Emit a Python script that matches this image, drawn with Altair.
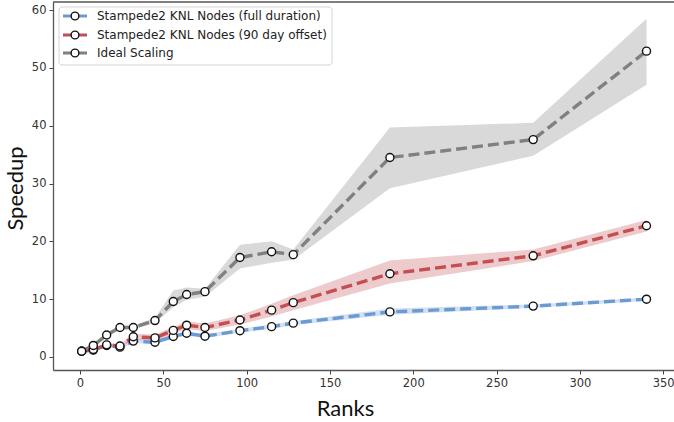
import altair as alt
import pandas as pd

ranks = [1, 8, 16, 24, 32, 45, 56, 64, 75, 96, 115, 128, 186, 272, 340]

series_names = [
    "Stampede2 KNL Nodes (full duration)",
    "Stampede2 KNL Nodes (90 day offset)",
    "Ideal Scaling",
]
colors = ["#6b9bd2", "#c44e52", "#808080"]

full_mean = [1.0, 1.2, 2.0, 1.7, 2.75, 2.55, 3.55, 4.1, 3.6, 4.55, 5.25, 5.85, 7.8, 8.8, 10.0]
full_lo = [0.9, 1.0, 1.7, 1.4, 2.4, 2.2, 3.2, 3.7, 3.3, 4.2, 4.9, 5.5, 7.3, 8.5, 9.7]
full_hi = [1.1, 1.4, 2.3, 2.0, 3.1, 2.9, 3.9, 4.5, 3.9, 4.9, 5.6, 6.2, 8.4, 9.1, 10.3]

offset_mean = [1.0, 1.3, 2.1, 1.9, 3.5, 3.3, 4.6, 5.5, 5.1, 6.4, 8.1, 9.4, 14.4, 17.5, 22.7]
offset_lo = [0.9, 1.1, 1.8, 1.6, 3.0, 2.8, 4.0, 4.8, 4.5, 5.6, 7.0, 8.1, 12.7, 16.6, 21.7]
offset_hi = [1.1, 1.5, 2.4, 2.2, 4.0, 3.9, 5.2, 6.2, 5.8, 7.2, 9.2, 10.7, 16.7, 18.6, 23.7]

ideal_mean = [1.0, 2.0, 3.8, 5.1, 5.1, 6.3, 9.6, 10.8, 11.3, 17.2, 18.2, 17.7, 34.5, 37.6, 52.9]
ideal_lo = [0.9, 1.7, 3.5, 4.8, 4.8, 5.9, 8.6, 9.9, 10.4, 15.3, 16.3, 16.8, 29.2, 34.8, 47.1]
ideal_hi = [1.1, 2.3, 4.2, 5.4, 5.4, 6.8, 11.5, 12.0, 11.8, 19.4, 20.0, 18.6, 39.7, 40.5, 58.5]

x_ticks = [0, 50, 100, 150, 200, 250, 300, 350]
y_ticks = [0, 10, 20, 30, 40, 50, 60]

rows = []
for name, m, lo, hi in zip(series_names,
                           [full_mean, offset_mean, ideal_mean],
                           [full_lo, offset_lo, ideal_lo],
                           [full_hi, offset_hi, ideal_hi]):
    for r, a, b, c in zip(ranks, m, lo, hi):
        rows.append({"series": name, "rank": r, "speedup": a, "lo": b, "hi": c})
df = pd.DataFrame(rows)

color_scale = alt.Scale(domain=series_names, range=colors)
x_enc = alt.X("rank:Q", scale=alt.Scale(domain=[-16.2, 356.5], nice=False, zero=False),
              axis=alt.Axis(values=x_ticks, title="Ranks", titleX=292, titleY=38,
                            titleBaseline="middle", titleAlign="center"))
y_enc = alt.Y("speedup:Q", scale=alt.Scale(domain=[-2.25, 61.4], nice=False, zero=False),
              axis=alt.Axis(values=y_ticks, title="Speedup", titleX=-38, titleY=186,
                            titleBaseline="middle", titleAlign="center", titleAngle=-90))

base = alt.Chart(df)

bands = base.mark_area(opacity=0.3).encode(
    x=x_enc,
    y=alt.Y("lo:Q"),
    y2="hi:Q",
    color=alt.Color("series:N", scale=color_scale, legend=None),
    detail="series:N",
)

lines = base.mark_line(strokeDash=[11, 5], strokeWidth=3.4).encode(
    x=x_enc,
    y=y_enc,
    color=alt.Color("series:N", scale=color_scale, legend=None),
    detail="series:N",
)

points = base.mark_point(shape="circle", fill="white", fillOpacity=1, stroke="#111",
                         strokeWidth=1.4, size=64, opacity=1).encode(
    x=x_enc,
    y=y_enc,
)

top_spine = alt.Chart(pd.DataFrame({"a": [0]})).mark_rule(color="#555", strokeWidth=1.3).encode(
    x=alt.value(0), x2=alt.value(621), y=alt.value(0)
)

# legend
leg_df = pd.DataFrame({"name": series_names, "color": colors, "row": [0, 1, 2]})
leg_box = alt.Chart(pd.DataFrame({"a": [0]})).mark_rect(
    fill="white", stroke="#d0d0d0", strokeWidth=1, cornerRadius=3, opacity=0.9
).encode(x=alt.value(6), x2=alt.value(279), y=alt.value(5), y2=alt.value(63))

leg_layers = [leg_box]
row_y = [14, 33, 51]
for i in range(3):
    d = alt.Chart(leg_df).transform_filter(alt.datum.row == i)
    leg_layers.append(d.mark_rule(strokeDash=[11, 5], strokeWidth=3.2).encode(
        x=alt.value(10), x2=alt.value(34), y=alt.value(row_y[i]),
        color=alt.Color("color:N", scale=None)))
    leg_layers.append(d.mark_point(shape="circle", fill="white", fillOpacity=1, stroke="#111",
                                   strokeWidth=1.4, size=60, opacity=1).encode(
        x=alt.value(22), y=alt.value(row_y[i])))
    leg_layers.append(d.mark_text(align="left", baseline="middle", font="DejaVu Sans",
                                  fontSize=12, color="#222").encode(
        x=alt.value(44), y=alt.value(row_y[i]), text="name:N"))

chart = alt.layer(bands, lines, points, top_spine, *leg_layers).properties(
    width=621, height=368,
    padding={"left": 53, "top": 2, "right": 0, "bottom": 52},
    autosize=alt.AutoSizeParams(type="none"),
).configure_view(stroke=None).configure_axis(
    grid=False,
    domainColor="#555",
    domainWidth=1.3,
    tickColor="#444",
    tickSize=4,
    labelFont="DejaVu Sans",
    labelFontSize=11.5,
    labelColor="#333",
    labelPadding=3,
    titleFont="Lato",
    titleFontSize=22,
    titleFontWeight="normal",
    titleColor="#111",
).configure_axisX(labelFlush=False).configure_axisY(labelFlush=False)

chart.save("out.html", embed_options={"renderer": "svg", "actions": False})
